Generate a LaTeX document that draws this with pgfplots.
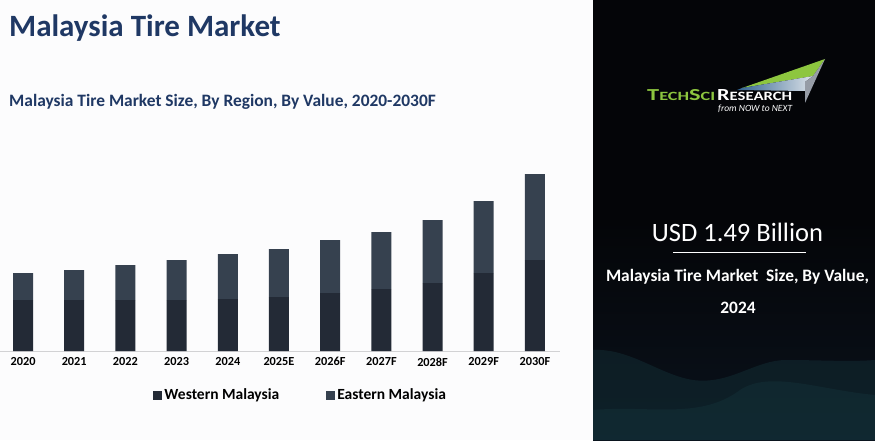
\documentclass[border=0pt]{standalone}
\usepackage{pgfplots}
\pgfplotsset{compat=1.18}
\usepackage{graphicx}
\usepackage{fontspec}
\setmainfont{Carlito}
\usetikzlibrary{shadings}
\definecolor{navy}{HTML}{1F3864}
\definecolor{west}{HTML}{232A36}
\definecolor{east}{HTML}{36414F}
\definecolor{panelTop}{HTML}{040508}
\definecolor{panelBot}{HTML}{0A121C}
\definecolor{tsgreen}{HTML}{8DC63F}
\definecolor{wave}{HTML}{15363D}
\begin{document}
\begin{tikzpicture}[x=1pt,y=1pt]
\path[use as bounding box] (0,0) rectangle (875,440);
\fill[color={rgb,255:red,252;green,252;blue,253}] (0,0) rectangle (593,440);
% right panel
\shade[top color=panelTop, bottom color=panelBot, middle color=panelTop] (593,0) rectangle (875,440);
\fill[wave, opacity=0.4] (593,0) -- (593,90) .. controls (630,92) and (660,65) .. (693,60) .. controls (730,55) and (755,80) .. (786,80) .. controls (820,80) and (850,78) .. (875,80) -- (875,0) -- cycle;
\fill[wave, opacity=0.4] (593,0) -- (593,30) .. controls (650,35) and (700,20) .. (740,50) .. controls (770,70) and (820,50) .. (875,45) -- (875,0) -- cycle;
% logo
\fill[tsgreen] (742,352) -- (825,381) -- (813,364) -- cycle;
\shade[left color={rgb,255:red,50;green,100;blue,145}, right color={rgb,255:red,220;green,226;blue,232}] (737,350) -- (742,352) -- (813,364) -- (805,358) -- (805,349) -- cycle;
\fill[color={rgb,255:red,150;green,156;blue,166}] (813,364) -- (825,381) -- (805,337) -- (805,358) -- cycle;
\node[anchor=south west, inner sep=0, text=tsgreen] at (647,339.5) {\resizebox{68pt}{11pt}{\bfseries\fontsize{14}{14}\selectfont T\fontsize{10.5}{14}\selectfont ECH\fontsize{14}{14}\selectfont S\fontsize{10.5}{14}\selectfont CI}};
\node[anchor=south west, inner sep=0, text=white] at (717,339.5) {\resizebox{75pt}{11pt}{\bfseries\fontsize{14}{14}\selectfont R\fontsize{10.5}{14}\selectfont ESEARCH}};
\node[anchor=base west, inner sep=0, text=white, font=\itshape\fontsize{9.5}{11}\selectfont] at (718,328.5) {from NOW to NEXT};
% right panel text
\node[text=white, font=\fontsize{26.5}{30}\selectfont, inner sep=0] at (737.5,208) {USD 1.49 Billion};
\draw[white, line width=0.8] (673,188) -- (806,188);
\node[text=white, font=\bfseries\fontsize{17.4}{20}\selectfont, inner sep=0] at (737.5,163) {Malaysia Tire Market\ \ Size, By Value,};
\node[text=white, font=\bfseries\fontsize{17.4}{20}\selectfont, inner sep=0] at (738,132) {2024};
% titles
\node[anchor=base west, inner sep=0, text=navy, font=\bfseries\fontsize{31}{34}\selectfont] at (9,403) {Malaysia Tire Market};
\node[anchor=base west, inner sep=0, text=navy, font=\bfseries\fontsize{17.4}{20}\selectfont] at (9,333) {Malaysia Tire Market Size, By Region, By Value, 2020-2030F};
\begin{axis}[
  at={(0,89)}, anchor=south west,
  scale only axis, width=560pt, height=201pt,
  xmin=-0.45, xmax=10.49, ymin=0, ymax=201,
  ybar stacked, bar width=20pt,
  axis x line*=bottom, axis y line=none,
  x axis line style={draw={rgb,255:red,210;green,210;blue,212}, line width=0.8pt},
  xtick=data,
  xticklabels={2020,2021,2022,2023,2024,2025E,2026F,2027F,2028F,2029F,2030F},
  xtick style={draw=none},
  x tick label style={font=\bfseries\fontsize{12.3}{14}\selectfont, text=black, yshift=-3pt},
  /pgf/number format/assume math mode=true,
  ytick=\empty,
  legend columns=2,
  legend style={at={(0.537,-0.219)}, anchor=center, draw=none, fill=none,
    font=\bfseries\fontsize{15.5}{18}\selectfont,
    /tikz/every even column/.append style={column sep=45pt}},
  legend image code/.code={\fill (0pt,-4.5pt) rectangle (9pt,4.5pt);},
  clip=false,
]
\addplot[fill=west, draw=none] coordinates {(0,51) (1,51) (2,51) (3,51) (4,52) (5,54) (6,58) (7,62) (8,68) (9,78) (10,91)};
\addplot[fill=east, draw=none] coordinates {(0,27) (1,30) (2,35) (3,40) (4,45) (5,48) (6,53) (7,57) (8,63) (9,72) (10,86)};
\legend{Western Malaysia, Eastern Malaysia}
\node[text={rgb,255:red,62;green,70;blue,84}, font=\fontsize{11}{12}\selectfont, inner sep=0] at (axis cs:6,29) {2.63};
\end{axis}
\end{tikzpicture}
\end{document}
